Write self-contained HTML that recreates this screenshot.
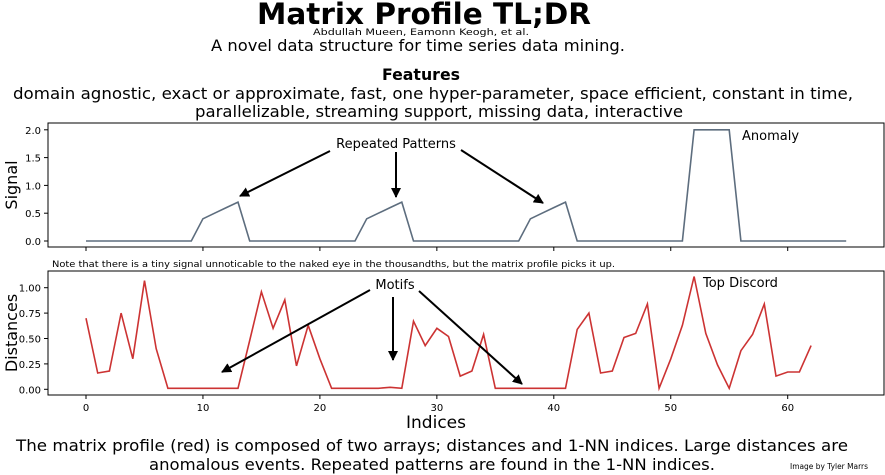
<!DOCTYPE html>
<html><head><meta charset="utf-8"><style>
html,body{margin:0;padding:0;background:#fff;}
svg{display:block;font-family:"DejaVu Sans","Liberation Sans",sans-serif;}
</style></head><body>
<svg id="chart" width="885" height="475" viewBox="0 0 885 475" xmlns="http://www.w3.org/2000/svg">
<defs><marker id="ah" viewBox="0 0 10 10" refX="9" refY="5" markerWidth="5" markerHeight="5" orient="auto"><path d="M0,0 L10,5 L0,10 z" fill="#000"/></marker></defs>
<text x="424" y="24" text-anchor="middle" font-size="29" font-weight="bold" textLength="334" lengthAdjust="spacingAndGlyphs">Matrix Profile TL;DR</text>
<text x="421" y="35" text-anchor="middle" font-size="9" textLength="216" lengthAdjust="spacingAndGlyphs">Abdullah Mueen, Eamonn Keogh, et al.</text>
<text x="418" y="51" text-anchor="middle" font-size="16" textLength="414" lengthAdjust="spacingAndGlyphs">A novel data structure for time series data mining.</text>
<text x="421" y="80" text-anchor="middle" font-size="16" font-weight="bold" textLength="78" lengthAdjust="spacingAndGlyphs">Features</text>
<text x="433" y="99" text-anchor="middle" font-size="16" textLength="840" lengthAdjust="spacingAndGlyphs">domain agnostic, exact or approximate, fast, one hyper-parameter, space efficient, constant in time,</text>
<text x="439" y="117" text-anchor="middle" font-size="16" textLength="488" lengthAdjust="spacingAndGlyphs">parallelizable, streaming support, missing data, interactive</text>
<g id="topAx"></g>
<g id="botAx"></g>
<text x="52" y="267" font-size="8.5" textLength="563" lengthAdjust="spacingAndGlyphs">Note that there is a tiny signal unnoticable to the naked eye in the thousandths, but the matrix profile picks it up.</text>
<text x="436" y="428" text-anchor="middle" font-size="17">Indices</text>
<text x="432" y="451" text-anchor="middle" font-size="16" textLength="832" lengthAdjust="spacingAndGlyphs">The matrix profile (red) is composed of two arrays; distances and 1-NN indices. Large distances are</text>
<text x="432" y="470" text-anchor="middle" font-size="16" textLength="566" lengthAdjust="spacingAndGlyphs">anomalous events. Repeated patterns are found in the 1-NN indices.</text>
<text x="790" y="469" font-size="7.5" textLength="78" lengthAdjust="spacingAndGlyphs">Image by Tyler Marrs</text>
</svg>
<script>
const signal=[0,0,0,0,0,0,0,0,0,0,0.4,0.5,0.6,0.7,0,0,0,0,0,0,0,0,0,0,0.4,0.5,0.6,0.7,0,0,0,0,0,0,0,0,0,0,0.4,0.5,0.6,0.7,0,0,0,0,0,0,0,0,0,0,2,2,2,2,0,0,0,0,0,0,0,0,0,0];
const distances=[0.70,0.16,0.18,0.75,0.30,1.07,0.40,0.01,0.01,0.01,0.01,0.01,0.01,0.01,0.48,0.96,0.60,0.88,0.23,0.63,0.30,0.01,0.01,0.01,0.01,0.01,0.02,0.01,0.67,0.43,0.60,0.52,0.13,0.18,0.54,0.01,0.01,0.01,0.01,0.01,0.01,0.01,0.59,0.75,0.16,0.18,0.51,0.55,0.84,0.01,0.30,0.63,1.11,0.55,0.24,0.01,0.38,0.54,0.84,0.13,0.17,0.17,0.43];
const xTicks=[0,10,20,30,40,50,60];
const sigTicks=[0,0.5,1.0,1.5,2.0];
const sigTickLabels=["0.0","0.5","1.0","1.5","2.0"];
const distTicks=[0,0.25,0.5,0.75,1.0];
const distTickLabels=["0.00","0.25","0.50","0.75","1.00"];
const NS='http://www.w3.org/2000/svg';
const xS=v=>86+v*11.695;
function mk(p,t,a){const e=document.createElementNS(NS,t);for(const k in a)e.setAttribute(k,a[k]);p.appendChild(e);return e;}
function axes(g,y0,y1,yS,ticks,labels,data,color,showX,ylab,yTitleY){
  const box=mk(g,'rect',{x:48,y:y0,width:836,height:y1-y0,fill:'none',stroke:'#000','stroke-width':1});
  
  
  ticks.forEach((t,i)=>{const y=yS(t);
    const l=mk(g,'line',{x1:44,x2:48,y1:y,y2:y,stroke:'#000'});
    
    
    const tx=mk(g,'text',{x:41,y:y+4,'text-anchor':'end','font-size':10});tx.textContent=labels[i];
    
    });
  xTicks.forEach(t=>{const x=xS(t);
    const l=mk(g,'line',{x1:x,x2:x,y1:y1,y2:y1+4,stroke:'#000'});
    
    
    if(showX){const tx=mk(g,'text',{x:x,y:y1+16,'text-anchor':'middle','font-size':10});tx.textContent=t;
      
      }});
  const pts=data.map((v,i)=>xS(i).toFixed(1)+','+yS(v).toFixed(1)).join(' ');
  const pl=mk(g,'polyline',{points:pts,fill:'none',stroke:color,'stroke-width':1.6});
  
  
  const yt=mk(g,'text',{x:0,y:0,'text-anchor':'middle','font-size':16,transform:'translate(17,'+yTitleY+') rotate(-90)'});yt.textContent=ylab;
  
  
}
const topG=document.getElementById('topAx'),botG=document.getElementById('botAx');
const ySig=v=>241-v*55.6;
const yDist=v=>389.3-v*101.6;
axes(topG,123,247,ySig,sigTicks,sigTickLabels,signal,'#5d6d7e',false,'Signal',185);
axes(botG,271,395,yDist,distTicks,distTickLabels,distances,'#cc3333',true,'Distances',333);
function arrow(g,x1,y1,x2,y2,name){const a=mk(g,'line',{x1,y1,x2,y2,stroke:'#000','stroke-width':2,'marker-end':'url(#ah)'});
  
  }
function label(g,x,y,s,name,anchor){const t=mk(g,'text',{x,y,'font-size':13,'text-anchor':anchor||'start'});t.textContent=s;
  
  }
label(topG,396,148,'Repeated Patterns','repeated-patterns-label','middle');
arrow(topG,330,151,240,196,'pattern-arrow-1');
arrow(topG,396,152,396,197,'pattern-arrow-2');
arrow(topG,461,150,543,203,'pattern-arrow-3');
label(topG,742,140,'Anomaly','anomaly-label');
label(botG,395,289,'Motifs','motifs-label','middle');
arrow(botG,370,290,222,372,'motif-arrow-1');
arrow(botG,393,297,393,360,'motif-arrow-2');
arrow(botG,419,291,522,384,'motif-arrow-3');
label(botG,703,287,'Top Discord','top-discord-label');
</script>
</body></html>
